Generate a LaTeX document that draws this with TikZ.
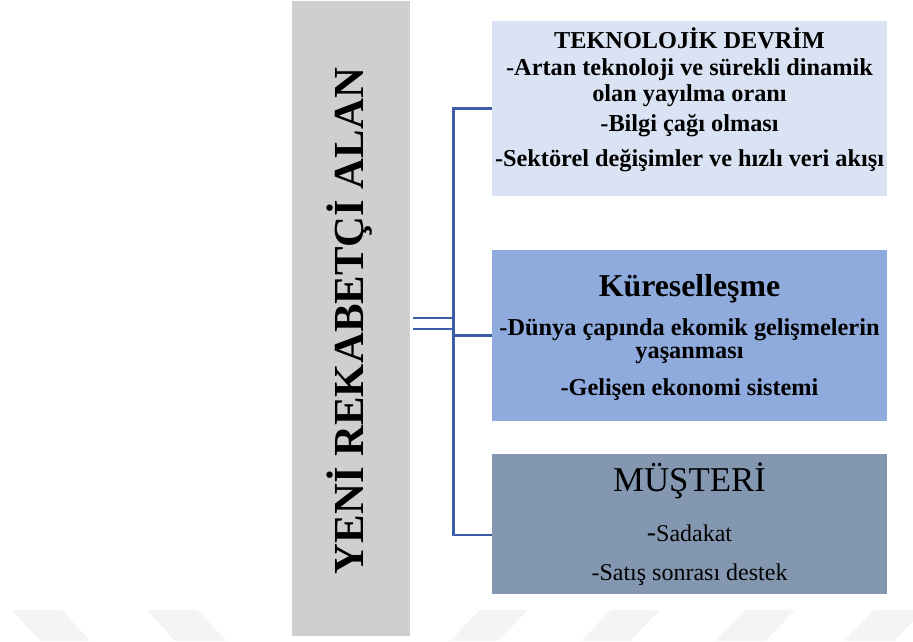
\documentclass[tikz,border=0pt]{standalone}
\usepackage{fontspec}
\setmainfont{Liberation Serif}
\definecolor{graybox}{HTML}{D0CECF}
\definecolor{boxA}{HTML}{DAE3F3}
\definecolor{boxB}{HTML}{8FAADC}
\definecolor{boxC}{HTML}{8497B0}
\definecolor{connc}{HTML}{3B5EA6}
\definecolor{wmark}{HTML}{F4F4F4}
\tikzset{
  panel/.style={rectangle, inner sep=0pt, draw=none, minimum width=395pt},
  conn/.style={draw=connc, line width=2.8pt, line join=miter},
  tline/.style={anchor=base, inner sep=0pt, font=\fontsize{24.3}{26}\selectfont\bfseries},
  rline/.style={anchor=base, inner sep=0pt, font=\fontsize{24}{26}\selectfont},
  wm/.style={fill=wmark, draw=none}
}
\begin{document}
\begin{tikzpicture}[x=1pt, y=-1pt]
\useasboundingbox (0,0) rectangle (913,641);
% faint watermark shapes
\fill[wm] (12,610) -- (62,610) -- (90,641) -- (40,641) -- cycle;
\fill[wm] (147,610) -- (197,610) -- (227,641) -- (175,641) -- cycle;
\fill[wm] (480,610) -- (528,610) -- (498,641) -- (450,641) -- cycle;
\fill[wm] (611,610) -- (660,610) -- (630,641) -- (581,641) -- cycle;
\fill[wm] (745,610) -- (795,610) -- (765,641) -- (715,641) -- cycle;
\fill[wm] (874,610) -- (924,610) -- (894,641) -- (844,641) -- cycle;

% left gray panel
\node[rectangle, inner sep=0pt, fill=graybox, minimum width=118pt, minimum height=635pt] (g) at (351,318.5) {};
\node[anchor=base, inner sep=0pt, rotate=90, font=\fontsize{42.8}{44}\selectfont\bfseries] (gt) at (363,321) {YENİ REKABETÇİ ALAN};

% boxes
\node[panel, fill=boxA, minimum height=175pt] (b1) at (689.5,108.5) {};
\node[panel, fill=boxB, minimum height=171pt] (b2) at (689.5,335.5) {};
\node[panel, fill=boxC, minimum height=140pt] (b3) at (689.5,524.3) {};

% box 1 text
\node[tline] (t11) at (689.5,48.3) {TEKNOLOJİK DEVRİM};
\node[tline] (t12) at (689.5,75) {-Artan teknoloji ve sürekli dinamik};
\node[tline] (t13) at (689.5,101.7) {olan yayılma oranı};
\node[tline] (t14) at (689.5,131.7) {-Bilgi çağı olması};
\node[tline] (t15) at (689.5,166.7) {-Sektörel değişimler ve hızlı veri akışı};

% box 2 text
\node[tline, font=\fontsize{31.8}{34}\selectfont\bfseries] (t21) at (689.5,296.7) {Küreselleşme};
\node[tline] (t22) at (689.5,335.7) {-Dünya çapında ekomik gelişmelerin};
\node[tline] (t23) at (689.5,358.3) {yaşanması};
\node[tline] (t24) at (689.5,395) {-Gelişen ekonomi sistemi};

% box 3 text
\node[rline, font=\fontsize{34.8}{36}\selectfont] (t31) at (689.5,491.7) {MÜŞTERİ};
\node[rline] (t32) at (689.5,541.7) {{\fontsize{28}{28}\selectfont -}Sadakat};
\node[rline] (t33) at (689.5,580) {-Satış sonrası destek};

% connectors
\coordinate (vt) at (453.5,108.5);
\coordinate (vb) at (453.5,535);
\coordinate (d1) at (453.5,318);
\coordinate (d2) at (453.5,329);
\draw[conn] ([xshift=3pt]g.east |- d1) -- (d1);
\draw[conn] ([xshift=3pt]g.east |- d2) -- (d2);
\draw[conn] (b1.west) -- (vt) -- (vb) -- (b3.west |- vb);
\draw[conn] (b2.west -| vt) -- (b2.west);
\end{tikzpicture}
\end{document}
